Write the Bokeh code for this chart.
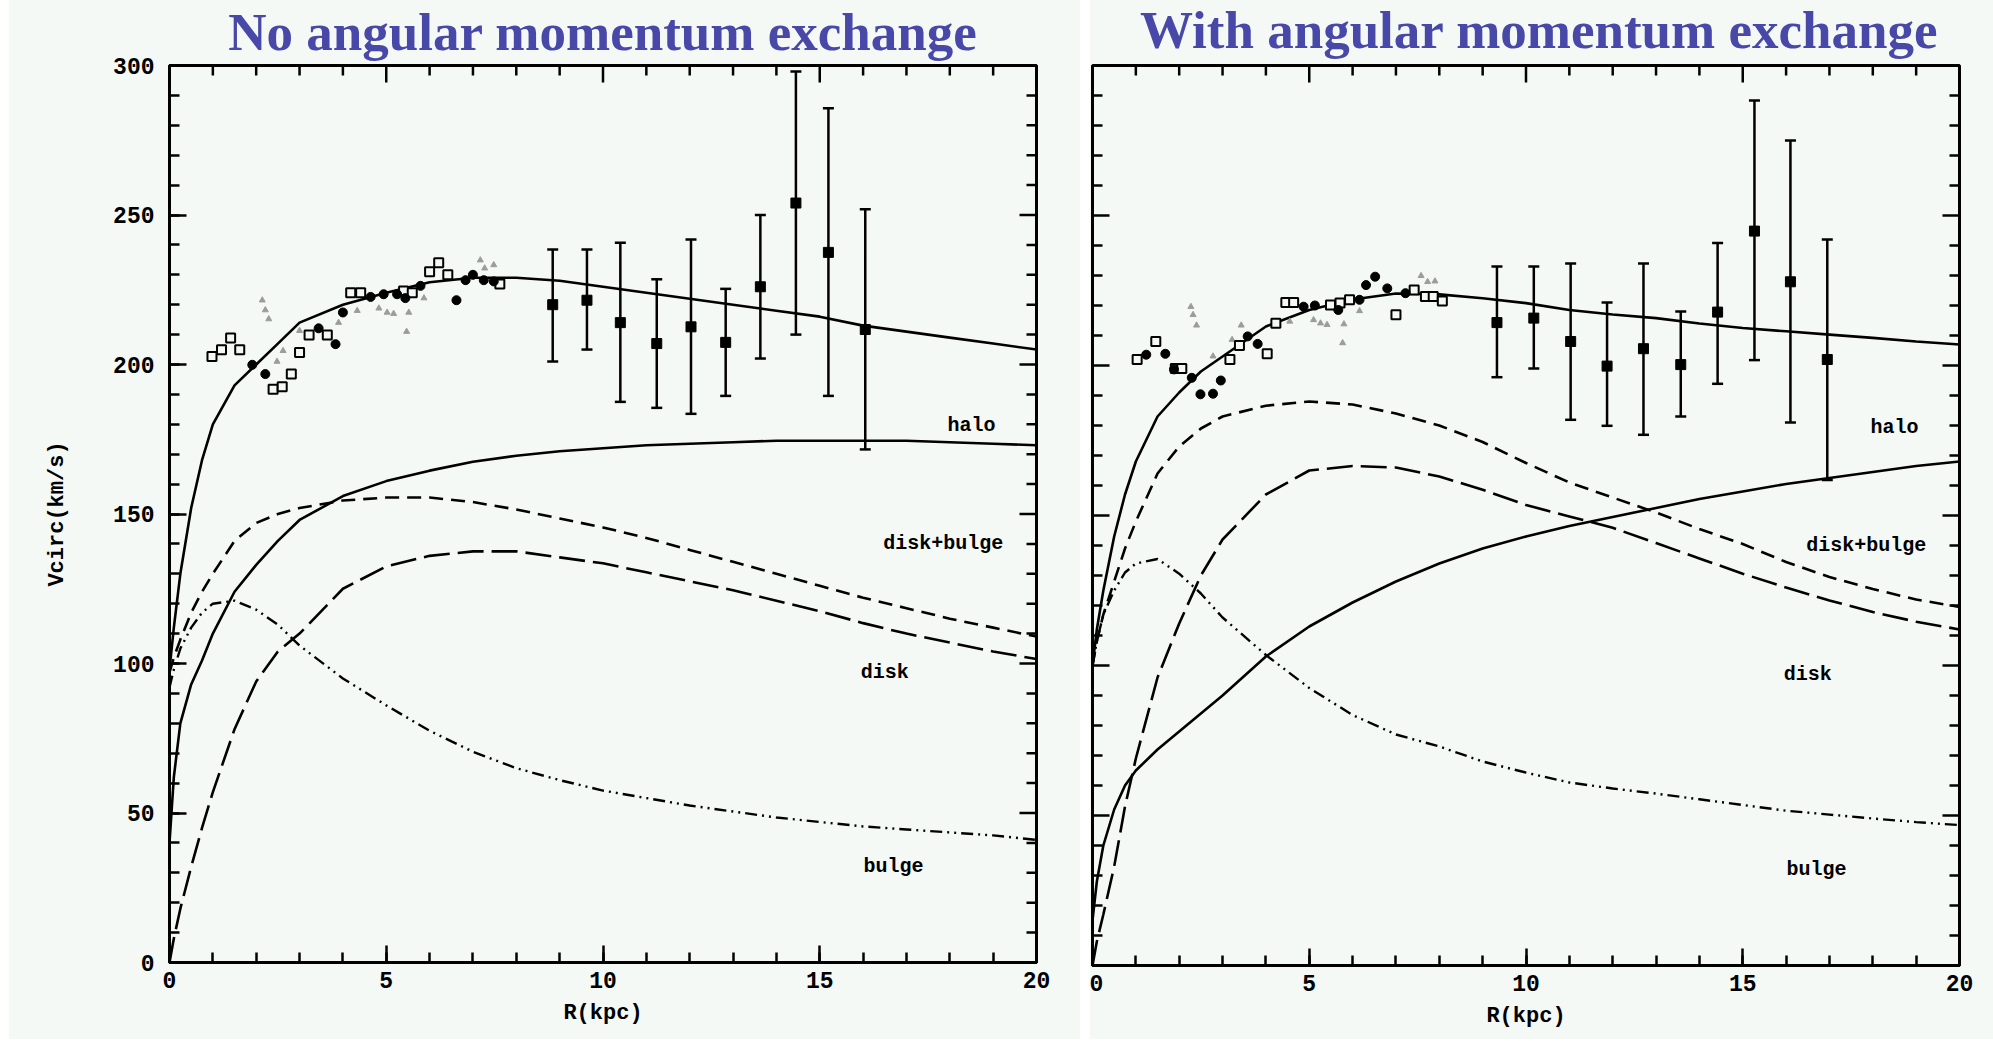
from bokeh.plotting import figure
from bokeh.layouts import row
from bokeh.models import (ColumnDataSource, Whisker, TeeHead, LinearAxis,
                          SingleIntervalTicker, FixedTicker, Range1d, Label, Spacer)
from bokeh.embed import file_html
from bokeh.resources import INLINE

# ---- model curves (R in kpc, V in km/s) ----
r_model = [0, 0.1, 0.25, 0.5, 0.75, 1, 1.5, 2, 2.5, 3, 4, 5, 6, 7, 8, 9, 10,
           11, 12, 13, 14, 15, 16, 17, 18, 19, 20]

# no angular momentum exchange
total_a = [98, 112, 130, 152, 168, 180, 193, 200, 207, 214, 220, 224, 227.5, 229,
           229, 228, 226, 224, 222, 220, 218, 216, 213, 211, 209, 207, 205]
halo_a = [40, 62, 80, 93, 101, 110, 124, 133, 141, 148, 156, 161, 164.5, 167.5,
          169.5, 171, 172, 173, 173.5, 174, 174.5, 174.5, 174.5, 174.5, 174, 173.5, 173]
diskbulge_a = [97, 102, 108, 117, 124, 130, 141, 147, 150, 152, 154.5, 155.5, 155.5,
               154, 151.5, 148.5, 145.5, 142, 138, 134, 130, 126, 122, 118.5, 115, 112, 109]
disk_a = [0, 8, 18, 32, 45, 57, 78, 94, 104, 110, 125, 132.5, 136, 137.5, 137.5,
          135.5, 133.5, 130.5, 127.5, 124.5, 121, 117.5, 113.5, 110, 107, 104, 101.5]
bulge_a = [92, 98, 105, 112, 117, 120, 121, 118, 113, 106, 95, 86, 77.5, 70.5, 65,
           61, 57.5, 55, 52.5, 50.5, 48.5, 47, 45.5, 44.5, 43.5, 42.5, 41]

# with angular momentum exchange
total_b = [100, 112, 125, 143, 157, 168, 183, 191, 198, 203, 213, 218.5, 222, 224,
           223.7, 222.4, 220.8, 218.5, 217, 215.8, 214, 212.5, 211.4, 210.3, 209.2, 208, 207]
halo_b = [15, 28, 40, 52, 60, 65, 72, 78, 84, 90, 103, 113, 121, 128, 134, 139, 143,
          146.5, 149.5, 152.5, 155.5, 158, 160.5, 162.5, 164.5, 166.5, 168]
diskbulge_b = [100, 108, 117, 128, 139, 148, 164, 173, 179, 183, 186.6, 188, 187, 184,
               180, 174.5, 167.5, 161, 156, 151, 145.5, 140.5, 134.5, 129.5, 125.5, 122, 119.5]
disk_b = [0, 8, 17, 33, 53, 69, 96, 114, 130, 142, 157, 165, 166.5, 166, 163, 158.6,
          153.5, 149.7, 145.9, 140.8, 135.7, 130.6, 126, 121.7, 117.8, 114.6, 112]
bulge_b = [100, 108, 117, 125, 131, 134, 135.5, 130.6, 124, 116, 103.5, 92.5, 83.5, 77,
           73, 68, 64.3, 61, 59, 57.3, 55.4, 53.5, 51.6, 50.3, 49, 47.8, 46.8]

# ---- observed rotation points ----
sq_r_a = [0.98, 1.20, 1.41, 1.62, 2.39, 2.60, 2.81, 3.00, 3.22, 3.64, 4.18, 4.41,
          5.40, 5.60, 6.00, 6.21, 6.42, 7.62]
sq_v_a = [202.7, 204.9, 208.9, 204.9, 191.7, 192.6, 196.8, 204.0, 209.9, 209.9, 224.0,
          224.0, 224.6, 224.0, 231.0, 234.0, 230.0, 226.9]
dot_r_a = [1.91, 2.21, 3.44, 3.83, 4.00, 4.64, 4.94, 5.25, 5.44, 5.79, 6.62, 6.83,
           7.00, 7.25, 7.48]
dot_v_a = [199.9, 196.8, 212.1, 206.8, 217.4, 222.6, 223.5, 223.5, 222.2, 226.3, 221.5,
           228.2, 230.0, 228.2, 227.8]
tri_r_a = [2.14, 2.21, 2.29, 2.48, 2.62, 3.00, 3.90, 4.33, 4.83, 5.02, 5.17, 5.47,
           5.52, 5.87, 7.17, 7.27, 7.48]
tri_v_a = [221.5, 218.2, 215.2, 201.0, 204.6, 211.3, 214.0, 218.0, 218.8, 217.4, 217.0,
           211.0, 217.4, 222.2, 234.9, 232.2, 233.3]

sq_r_b = [1.03, 1.46, 1.91, 2.06, 3.17, 3.39, 4.03, 4.23, 4.46, 4.64, 5.49, 5.71,
          5.93, 7.00, 7.42, 7.68, 7.86, 8.07]
sq_v_b = [202.0, 208.0, 199.0, 199.0, 202.0, 206.7, 203.9, 214.1, 221.0, 221.0, 220.2,
          220.8, 221.9, 216.9, 225.2, 223.0, 223.0, 221.5]
dot_r_b = [1.24, 1.68, 1.88, 2.29, 2.49, 2.78, 2.96, 3.58, 3.81, 4.87, 5.13, 5.67,
           6.16, 6.31, 6.52, 6.80, 7.22]
dot_v_b = [203.6, 203.9, 198.7, 195.9, 190.4, 190.6, 195.0, 209.7, 207.2, 219.6, 220.0,
           218.5, 221.9, 226.8, 229.6, 225.7, 224.1]
tri_r_b = [2.27, 2.32, 2.40, 2.78, 3.22, 3.43, 4.55, 5.10, 5.26, 5.41, 5.80, 5.77,
           6.16, 7.58, 7.73, 7.90]
tri_v_b = [219.6, 216.9, 213.4, 203.1, 208.6, 213.4, 214.7, 215.2, 214.1, 213.6, 213.8,
           207.5, 218.2, 229.9, 227.9, 228.1]

# outer points with error bars
err_r_a = [8.84, 9.63, 10.40, 11.24, 12.03, 12.83, 13.63, 14.45, 15.20, 16.05]
err_v_a = [220.0, 221.5, 214.0, 207.0, 212.6, 207.4, 226.0, 254.0, 237.5, 211.7]
err_hi_a = [238.5, 238.5, 240.7, 228.5, 241.8, 225.3, 250.0, 298.0, 285.7, 251.9]
err_lo_a = [201.0, 205.0, 187.5, 185.5, 183.5, 189.5, 202.0, 210.0, 189.5, 171.6]

err_r_b = [9.33, 10.18, 11.03, 11.87, 12.71, 13.57, 14.42, 15.27, 16.10, 16.95]
err_v_b = [214.3, 215.8, 208.0, 199.8, 205.6, 200.3, 217.8, 244.8, 227.9, 202.0]
err_hi_b = [233.0, 233.0, 234.0, 221.0, 234.0, 218.0, 240.8, 288.3, 275.0, 242.0]
err_lo_b = [196.1, 199.0, 181.9, 179.9, 176.9, 183.0, 193.9, 201.8, 181.0, 161.8]

titles = ["No angular momentum exchange", "\u00a0\u00a0With angular momentum exchange"]
x_major = [0, 5, 10, 15, 20]
x_minor = [1, 2, 3, 4, 6, 7, 8, 9, 11, 12, 13, 14, 16, 17, 18, 19]
y_major = [0, 50, 100, 150, 200, 250, 300]
y_minor = [v for v in range(10, 300, 10) if v % 50]
curve_names = ["halo", "disk+bulge", "disk", "bulge"]
name_pos_r = [18.5, 17.85, 16.5, 16.7]
name_pos_v = [179.5, 140, 97, 32]

BG = "#F5F9F6"
INK = "black"
TITLE_COLOR = "#4848A8"
MONO = "Liberation Mono"
X_LO, X_HI, Y_LO, Y_HI = 0, 20, 0, 300
FRAME_W = 867
MAJOR_LEN, MINOR_LEN = 17, 10
LIFT = 5            # canvas raised so the headings sit near the page top


def style_axis(ax):
    ax.axis_line_width = 3
    ax.axis_line_color = INK
    ax.major_tick_in = MAJOR_LEN
    ax.major_tick_out = 0
    ax.minor_tick_in = MINOR_LEN
    ax.minor_tick_out = 0
    ax.major_tick_line_width = 2.5
    ax.minor_tick_line_width = 2.5
    ax.major_tick_line_color = INK
    ax.minor_tick_line_color = INK
    ax.major_label_text_font = MONO
    ax.major_label_text_font_style = "bold"
    ax.major_label_text_font_size = "23px"
    ax.major_label_text_color = INK
    ax.axis_label_text_font = MONO
    ax.axis_label_text_font_style = "bold"
    ax.axis_label_text_font_size = "22px"
    ax.axis_label_text_color = INK


def inner_ticks(p, frame_h, sides):
    """Unlabelled inward ticks along the given frame sides."""
    py = frame_h / (Y_HI - Y_LO)      # pixels per km/s
    px = FRAME_W / (X_HI - X_LO)      # pixels per kpc
    kw = dict(line_color=INK, line_width=2.5)
    for ticks, length in ((x_major, MAJOR_LEN), (x_minor, MINOR_LEN)):
        if "top" in sides:
            p.segment(x0=ticks, y0=[Y_HI] * len(ticks), x1=ticks,
                      y1=[Y_HI - length / py] * len(ticks), **kw)
    for ticks, length in ((y_major, MAJOR_LEN), (y_minor, MINOR_LEN)):
        if "right" in sides:
            p.segment(x0=[X_HI] * len(ticks), y0=ticks,
                      x1=[X_HI - length / px] * len(ticks), y1=ticks, **kw)
        if "left" in sides:
            p.segment(x0=[X_LO] * len(ticks), y0=ticks,
                      x1=[X_LO + length / px] * len(ticks), y1=ticks, **kw)


def panel(curves, sq, dots, tris, err, title, frame_top, frame_h,
          border_left, border_right, labelled_y, title_gap):
    p = figure(frame_width=FRAME_W, frame_height=frame_h,
               min_border_left=border_left, min_border_right=border_right,
               min_border_top=frame_top, min_border_bottom=1044 - frame_top - frame_h,
               x_range=Range1d(X_LO, X_HI), y_range=Range1d(Y_LO, Y_HI),
               x_axis_type=None, y_axis_type=None, margin=(-LIFT, 0, 0, 0),
               output_backend="svg", toolbar_location=None)
    p.background_fill_color = BG
    p.border_fill_color = BG
    p.outline_line_color = INK
    p.outline_line_width = 3
    p.grid.visible = False

    xb = LinearAxis(ticker=SingleIntervalTicker(interval=5, num_minor_ticks=5),
                    axis_label="R(kpc)")
    style_axis(xb)
    xb.major_label_standoff = 9
    xb.axis_label_standoff = 10
    p.add_layout(xb, "below")

    if labelled_y:
        yl = LinearAxis(ticker=SingleIntervalTicker(interval=50, num_minor_ticks=5),
                        axis_label="Vcirc(km/s)")
        style_axis(yl)
        yl.major_label_standoff = 15
        yl.axis_label_standoff = 40
        p.add_layout(yl, "left")
        inner_ticks(p, frame_h, ("top", "right"))
    else:
        inner_ticks(p, frame_h, ("top", "right", "left"))

    # panel heading carried by an empty top axis
    top = LinearAxis(ticker=FixedTicker(ticks=[]), axis_label=title)
    top.axis_line_color = None
    top.major_tick_in = top.major_tick_out = 0
    top.minor_tick_in = top.minor_tick_out = 0
    top.axis_label_text_font = "Liberation Serif"
    top.axis_label_text_font_style = "bold"
    top.axis_label_text_font_size = "53px"
    top.axis_label_text_color = TITLE_COLOR
    top.axis_label_standoff = title_gap
    p.add_layout(top, "above")

    total, halo, db, disk, bulge = curves
    p.line(r_model, total, line_color=INK, line_width=2.6)
    p.line(r_model, halo, line_color=INK, line_width=2.6)
    p.line(r_model, db, line_color=INK, line_width=2.6, line_dash="14 8")
    p.line(r_model, disk, line_color=INK, line_width=2.6, line_dash="26 8")
    p.line(r_model, bulge, line_color=INK, line_width=2.4, line_dash="12 5 2 5 2 5")

    p.scatter(tris[0], tris[1], marker="triangle", size=6, fill_color="#9c9c9c",
              line_color="#9c9c9c")
    p.scatter(sq[0], sq[1], marker="square", size=9, fill_color=BG,
              line_color=INK, line_width=2)
    p.scatter(dots[0], dots[1], marker="circle", size=9, fill_color=INK, line_color=INK)

    er, ev, ehi, elo = err
    src = ColumnDataSource(dict(x=er, v=ev, hi=ehi, lo=elo))
    p.add_layout(Whisker(source=src, base="x", upper="hi", lower="lo",
                         dimension="height", line_width=2.5, line_color=INK,
                         upper_head=TeeHead(size=11, line_width=2.5, line_color=INK),
                         lower_head=TeeHead(size=11, line_width=2.5, line_color=INK)))
    p.scatter("x", "v", source=src, marker="square", size=10, fill_color=INK,
              line_color=INK)

    for name, lx, ly in zip(curve_names, name_pos_r, name_pos_v):
        p.add_layout(Label(x=lx, y=ly, text=name, text_align="center",
                           text_baseline="middle", text_font=MONO,
                           text_font_style="bold", text_font_size="20px",
                           text_color=INK))
    return p


left = panel((total_a, halo_a, diskbulge_a, disk_a, bulge_a),
             (sq_r_a, sq_v_a), (dot_r_a, dot_v_a), (tri_r_a, tri_v_a),
             (err_r_a, err_v_a, err_hi_a, err_lo_a),
             titles[0], 68, 897, 161, 44, True, 5)
right = panel((total_b, halo_b, diskbulge_b, disk_b, bulge_b),
              (sq_r_b, sq_v_b), (dot_r_b, dot_v_b), (tri_r_b, tri_v_b),
              (err_r_b, err_v_b, err_hi_b, err_lo_b),
              titles[1], 70, 900, 3, 34, False, 7)

layout = row(Spacer(width=8, height=1044), left, Spacer(width=9, height=1044), right)
open("out.html", "w").write(file_html(layout, INLINE))
